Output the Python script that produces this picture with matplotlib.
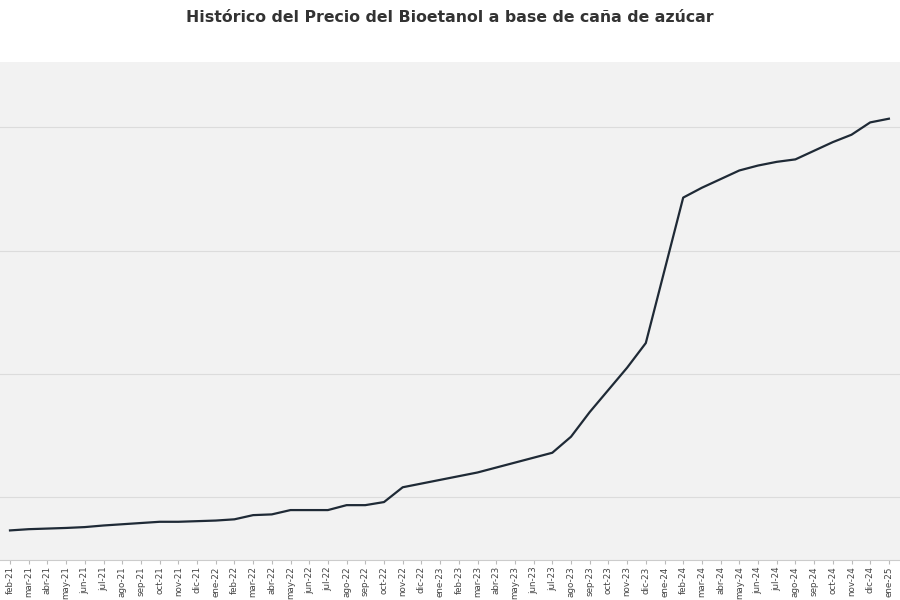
import matplotlib
matplotlib.use("Agg")
import matplotlib.pyplot as plt

months = ["feb-21","mar-21","abr-21","may-21","jun-21","jul-21","ago-21","sep-21","oct-21","nov-21","dic-21",
          "ene-22","feb-22","mar-22","abr-22","may-22","jun-22","jul-22","ago-22","sep-22","oct-22","nov-22","dic-22",
          "ene-23","feb-23","mar-23","abr-23","may-23","jun-23","jul-23","ago-23","sep-23","oct-23","nov-23","dic-23",
          "ene-24","feb-24","mar-24","abr-24","may-24","jun-24","jul-24","ago-24","sep-24","oct-24","nov-24","dic-24",
          "ene-25"]
values = [0.73,0.74,0.745,0.75,0.757,0.77,0.78,0.79,0.80,0.80,0.805,
          0.81,0.82,0.854,0.86,0.895,0.895,0.895,0.935,0.935,0.96,1.08,1.11,
          1.14,1.17,1.20,1.24,1.28,1.32,1.36,1.49,1.69,1.87,2.05,2.25,
          2.84,3.43,3.51,3.58,3.65,3.69,3.72,3.74,3.81,3.88,3.94,4.04,
          4.07]

fig = plt.figure(figsize=(9, 6), dpi=100)
ax = fig.add_axes([0, 1 - 560/600, 1, (560 - 62)/600])
ax.set_facecolor("#f2f2f2")
x = list(range(len(months)))
ax.plot(x, values, color="#1f2a36", lw=1.6, zorder=3)
ax.set_xlim(-10/18.7, 890/18.7)
ax.set_ylim(0.49, 4.53)
ax.set_yticks([1, 2, 3, 4])
ax.yaxis.grid(True, color="#dcdcdc", lw=0.8)
ax.tick_params(axis="y", left=False, labelleft=False)
ax.set_xticks(x)
ax.set_xticklabels(months, rotation=90, fontsize=6.3, color="#444444")
ax.tick_params(axis="x", length=3, pad=1.5, color="#bbbbbb")
for s in ["top", "right", "left"]:
    ax.spines[s].set_visible(False)
ax.spines["bottom"].set_color("#cccccc")
fig.text(0.5, 1 - 18/600, "Histórico del Precio del Bioetanol a base de caña de azúcar",
         ha="center", va="center", fontsize=11.3, fontweight="bold", color="#333333")
fig.savefig("out.png")
